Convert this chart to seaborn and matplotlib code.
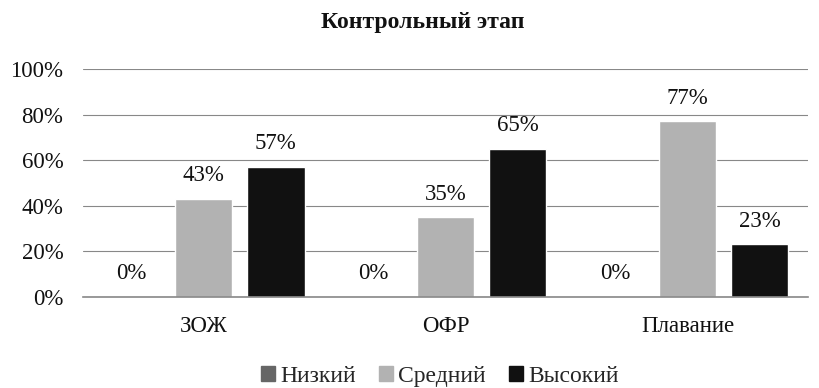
import matplotlib
matplotlib.use("Agg")
import matplotlib.pyplot as plt
import seaborn as sns
import pandas as pd

categories = ["ЗОЖ", "ОФР", "Плавание"]
levels = ["Низкий", "Средний", "Высокий"]
low = [0, 0, 0]
mid = [43, 35, 77]
high = [57, 65, 23]
yticks = [0, 20, 40, 60, 80, 100]
title = "Контрольный этап"

rows = []
for lvl, vals in zip(levels, [low, mid, high]):
    for cat, v in zip(categories, vals):
        rows.append({"Этап": cat, "Уровень": lvl, "Значение": v})
df = pd.DataFrame(rows)

sns.set_theme(style="white")
SERIF = "Liberation Serif"
plt.rcParams["font.family"] = SERIF

palette = {"Низкий": "#666666", "Средний": "#b2b2b2", "Высокий": "#111111"}
FS = 16.5

fig = plt.figure(figsize=(8.19, 3.88), dpi=100)
ax = fig.add_axes([0.101, 0.235, 0.886, 0.587])

sns.barplot(data=df, x="Этап", y="Значение", hue="Уровень", hue_order=levels,
            palette=palette, width=0.894, gap=0.2, saturation=1,
            ax=ax, legend=False)

for container in ax.containers:
    ax.bar_label(container, labels=[f"{v:.0f}%" for v in container.datavalues],
                 padding=9, fontsize=FS, family=SERIF, color="#111111")

ax.set_ylim(0, 100)
ax.set_yticks(yticks)
ax.set_yticklabels([f"{t}%" for t in yticks], fontsize=FS, family=SERIF, color="#111111")
ax.set_xticks(range(len(categories)))
ax.set_xticklabels(categories, fontsize=FS, family=SERIF, color="#111111")
ax.tick_params(axis="y", length=0, pad=14)
ax.tick_params(axis="x", length=0, pad=14)
ax.set_xlabel("")
ax.set_ylabel("")
ax.yaxis.grid(True, color="#888888", linewidth=0.8)
ax.set_axisbelow(True)
for s in ["top", "right", "left"]:
    ax.spines[s].set_visible(False)
ax.spines["bottom"].set_color("#888888")
ax.spines["bottom"].set_linewidth(1.2)

fig.text(0.516, 0.943, title, fontsize=17, fontweight="bold", family=SERIF,
         ha="center", va="center", color="#111111")

handles = [plt.Rectangle((0, 0), 1, 1, color=palette[l]) for l in levels]
fig.legend(handles, levels, loc="center", bbox_to_anchor=(0.537, 0.03),
           ncol=3, frameon=False, handlelength=0.6,
           handleheight=0.6, handletextpad=0.2, columnspacing=1.0,
           prop={"family": SERIF, "size": 17})

fig.savefig("out.png", dpi=100)
